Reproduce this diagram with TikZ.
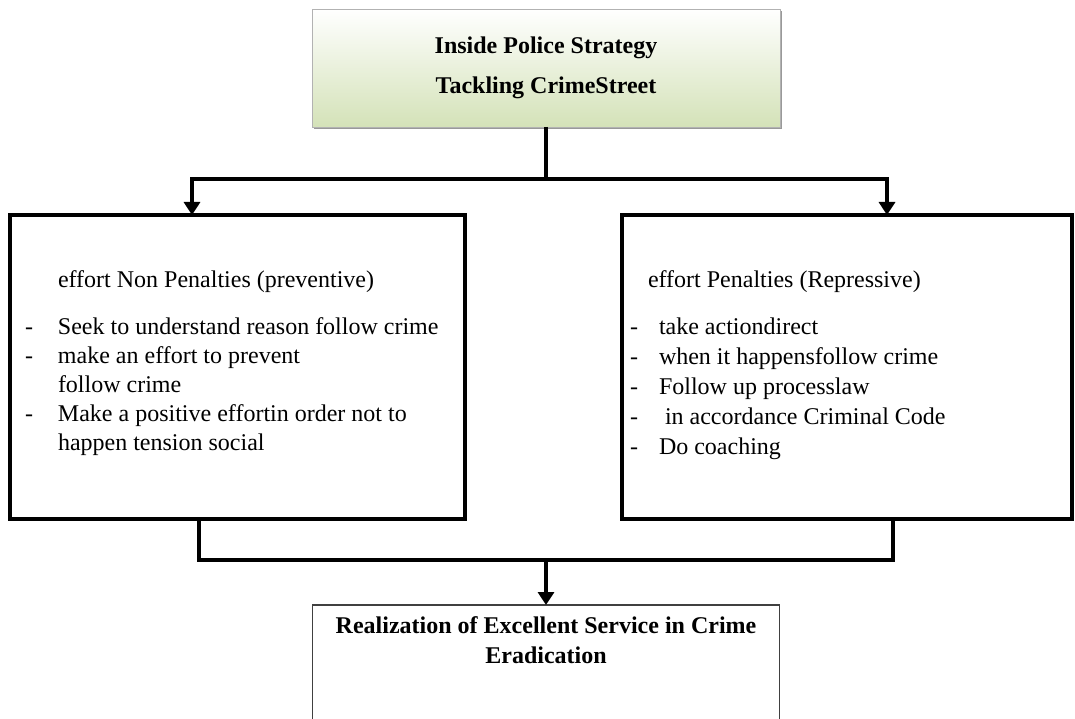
\documentclass[tikz,border=0pt]{standalone}
\usepackage{fontspec}
\setmainfont{Liberation Serif}
\usepackage{tikz}
\usetikzlibrary{arrows}
\usetikzlibrary{arrows.meta}
\usetikzlibrary{positioning}
\usetikzlibrary{shadows}
\usepackage{xcolor}
\definecolor{titlegreen}{RGB}{212,226,184}

\begin{document}
\begin{tikzpicture}[x=1pt, y=-1pt, >={Triangle[length=13pt, width=16pt]}, line width=3.8pt, node distance=157pt]
\tikzstyle{every node} = [outer sep=0pt, font=\fontsize{24}{29}\selectfont]
\tikzstyle{title} = [draw=gray!60, line width=0.8pt, top color=white, bottom color=titlegreen, minimum width=468pt, minimum height=118pt, align=center, font=\fontsize{24}{29}\selectfont\bfseries, drop shadow={shadow xshift=1.5pt, shadow yshift=-2pt, opacity=0.8}]
\tikzstyle{box} = [draw=black, line width=3.8pt, minimum height=304pt]
\tikzstyle{endbox} = [draw=black!75, line width=1.5pt, minimum width=467pt, minimum height=140pt]
\tikzstyle{listtext} = [inner sep=0pt, anchor=north west]

\useasboundingbox (0,0) rectangle (1075,719);

\node[title] (A) at (546,68) {Inside Police Strategy\\[11pt]Tackling CrimeStreet};
\node[box, minimum width=455pt] (B) at (237.5,367) {};
\node[box, minimum width=450pt] (C)[right=of B] {};
\node[endbox] (D)[below=478pt of A] {};

\node[listtext] (Bt) at ([xshift=15pt, yshift=-52pt]B.north west) {%
\begin{tabular}{@{}p{33pt}@{}l@{}}
 & effort Non Penalties (preventive)\\[18pt]
- & Seek to understand reason follow crime\\
- & make an effort to prevent\\
 & follow crime\\
- & Make a positive effortin order not to\\
 & happen tension social
\end{tabular}};
\node[listtext] (Ct) at ([xshift=8pt, yshift=-52pt]C.north west) {%
\begin{tabular}{@{}p{29pt}@{}l@{}}
\multicolumn{2}{@{\hspace{18pt}}l@{}}{effort Penalties (Repressive)}\\[18pt]
- & take actiondirect\\[1pt]
- & when it happensfollow crime\\[1pt]
- & Follow up processlaw\\[1pt]
- & \ in accordance Criminal Code\\[1pt]
- & Do coaching
\end{tabular}};
\node[inner sep=0pt, anchor=north, align=center, font=\fontsize{24}{29}\selectfont\bfseries] (Dt) at ([yshift=-12pt]D.north) {Realization of Excellent Service in Crime\\[1pt]Eradication};

\draw (A.south) -- ++(0,52) coordinate (J);
\draw[->] (J) -| ([xshift=-45.5pt]B.north);
\draw[->] (J) -| ([xshift=40pt]C.north);

\draw ([xshift=-38.5pt]B.south) -- ++(0,41) coordinate (K) -| ([xshift=46pt]C.south);
\draw[->] (K -| D.north) -- (D.north);

\end{tikzpicture}
\end{document}
